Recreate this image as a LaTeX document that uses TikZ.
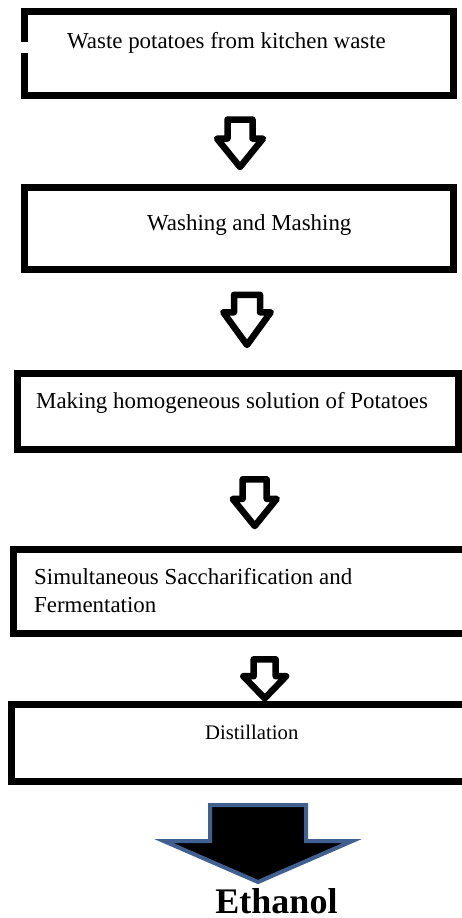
\documentclass[tikz,border=0pt]{standalone}
\usepackage{fontspec}
\setmainfont{Liberation Serif}
\usetikzlibrary{shapes.arrows}
\definecolor{arrowblue}{RGB}{63,96,145}
\tikzset{
  stepbox/.style={draw, line width=7pt, inner sep=0pt},
  boxtext/.style={anchor=base west, inner sep=0pt, align=left, font=\fontsize{22.9}{28.6}\selectfont},
  downarrow/.style={draw, single arrow, shape border rotate=270, line width=6.5pt, line join=round, single arrow tip angle=78, inner ysep=0pt, anchor=tail},
  bigarrow/.style={single arrow, shape border rotate=270, draw=arrowblue, fill=black, line width=4pt, line join=miter, anchor=tail, inner xsep=46pt, inner ysep=0pt, minimum width=184pt, minimum height=77pt, single arrow head extend=46pt, single arrow tip angle=133}
}
\begin{document}
\begin{tikzpicture}[x=1pt, y=-1pt]
  \useasboundingbox (0,0) rectangle (462,918);
  \node[stepbox, minimum width=429.5pt, minimum height=84.5pt] (waste) at (238.75,53.25) {};
  \node[stepbox, minimum width=429pt, minimum height=82pt] (wash) at (239,228) {};
  \node[stepbox, minimum width=441pt, minimum height=76.5pt] (homog) at (238,411.25) {};
  \node[stepbox, minimum width=457pt, minimum height=84pt] (ssf) at (241.5,591) {};
  \node[stepbox, minimum width=459pt, minimum height=77pt] (distil) at (240.5,742.5) {};
  \fill[white] (18,41.7) rectangle (31,53.3);
  \node[boxtext] (wastetxt) at (67,48.3) {Waste potatoes from kitchen waste};
  \node[boxtext] (washtxt) at (147,230) {Washing and Mashing};
  \node[boxtext] (homogtxt) at (36,408.3) {Making homogeneous solution of Potatoes};
  \node[boxtext] (ssftxt) at (34,612.7) {Simultaneous Saccharification and\\Fermentation};
  \node[boxtext, font=\fontsize{20.7}{24}\selectfont] (distiltxt) at (205,739.3) {Distillation};
  \node[downarrow, inner xsep=9.25pt, minimum width=39.5pt, minimum height=47.5pt, single arrow head extend=10.5pt] (a1) at (240,116.25) {};
  \node[downarrow, inner xsep=9.75pt, minimum width=41pt, minimum height=50.2pt, single arrow head extend=10.75pt, single arrow tip angle=72] (a2) at (247,291.5) {};
  \node[downarrow, inner xsep=8.75pt, minimum width=37.5pt, minimum height=46.8pt, single arrow head extend=10pt] (a3) at (254.7,476) {};
  \node[downarrow, inner xsep=7.75pt, minimum width=36.2pt, minimum height=39.1pt, single arrow head extend=10.35pt, single arrow tip angle=88] (a4) at (264.7,656) {};
  \node[bigarrow] (out) at (258,803) {};
  \node[anchor=base, inner sep=0pt, font=\fontsize{36}{40}\selectfont\bfseries] (ethanol) at (276.5,913) {Ethanol};
\end{tikzpicture}
\end{document}
